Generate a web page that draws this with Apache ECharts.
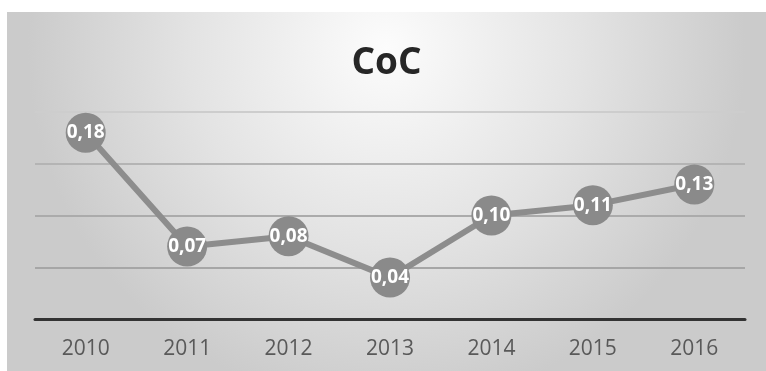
<!DOCTYPE html>
<html>
<head>
<meta charset="utf-8">
<script src="https://cdn.jsdelivr.net/npm/echarts@6/dist/echarts.min.js"></script>
<style>
html,body{margin:0;padding:0;background:#fff;width:766px;height:371px;overflow:hidden;}
#chart{position:absolute;left:7px;top:12px;width:759px;height:359px;}
</style>
</head>
<body>
<div id="chart"></div>
<script>
const categories = ['2010','2011','2012','2013','2014','2015','2016'];
const values = [0.18, 0.07, 0.08, 0.04, 0.10, 0.11, 0.13];
const titleText = 'CoC';

const chart = echarts.init(document.getElementById('chart'));
chart.setOption({
  backgroundColor: {
    type: 'radial', x: 0.5, y: 0.1, r: 1.0,
    colorStops: [
      {offset: 0, color: '#fcfcfc'},
      {offset: 0.55, color: '#e3e3e3'},
      {offset: 1, color: '#cbcbcb'}
    ]
  },
  title: {
    text: titleText, left: 'center', top: 28,
    textStyle: {fontFamily: 'Open Sans', fontWeight: 'bold', fontSize: 37, color: '#262626'}
  },
  grid: {left: 28, right: 21, top: 100, bottom: 52},
  xAxis: {
    type: 'category', data: categories, boundaryGap: true,
    axisLine: {lineStyle: {color: '#333', width: 3}},
    axisTick: {show: false},
    axisLabel: {fontFamily: 'Open Sans', fontSize: 21, color: '#595959', margin: 20}
  },
  yAxis: {
    type: 'value', min: 0, max: 0.2, interval: 0.05,
    axisLine: {show: false}, axisTick: {show: false}, axisLabel: {show: false},
    splitLine: {lineStyle: {color: ['#ababab', '#a6a6a6', '#ababab', '#b4b4b4', '#cdcdcd'], width: 2}}
  },
  series: [{
    type: 'line', data: values,
    symbol: 'circle', symbolSize: 40,
    lineStyle: {color: '#8d8d8d', width: 6},
    itemStyle: {color: '#8a8a8a'},
    label: {
      show: true, position: 'inside',
      fontFamily: 'Open Sans', fontWeight: 'bold', fontSize: 19, color: '#fff',
      formatter: p => p.value.toFixed(2).replace('.', ',')
    },
    animation: false
  }],
  animation: false
});
</script>
</body>
</html>
